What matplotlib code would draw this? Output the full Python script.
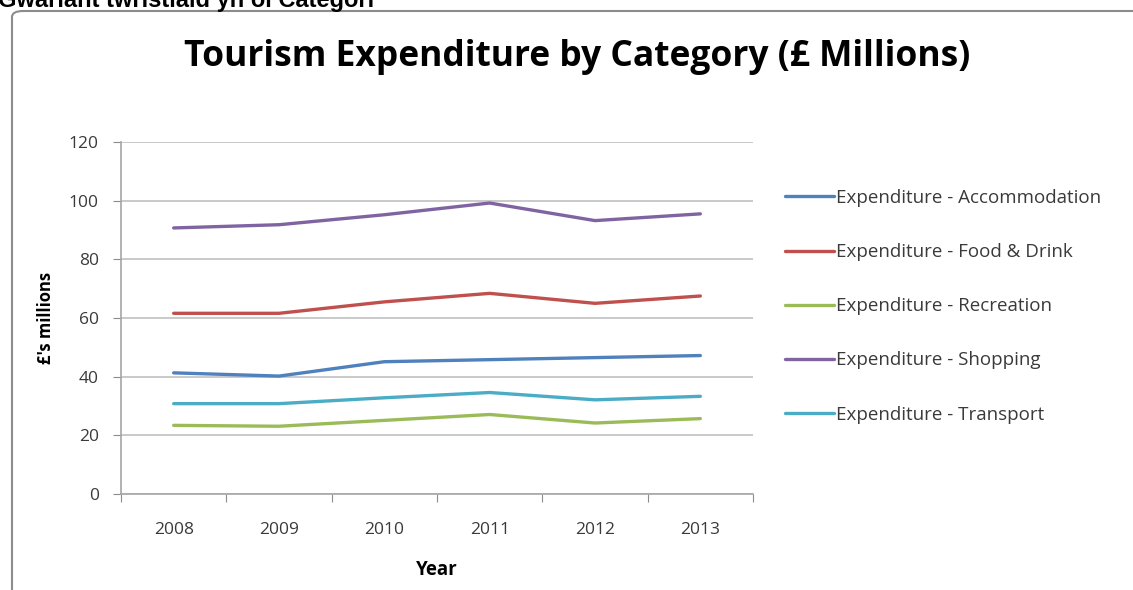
import matplotlib.pyplot as plt
from matplotlib.patches import FancyBboxPatch

years = ['2008', '2009', '2010', '2011', '2012', '2013']
accommodation = [41.3, 40.2, 45.1, 45.8, 46.5, 47.2]
food_drink = [61.6, 61.6, 65.5, 68.4, 65.0, 67.5]
recreation = [23.4, 23.1, 25.1, 27.1, 24.2, 25.7]
shopping = [90.7, 91.8, 95.2, 99.2, 93.2, 95.5]
transport = [30.8, 30.8, 32.8, 34.6, 32.1, 33.3]

series = [
    ('Expenditure - Accommodation', accommodation, '#4F81BD'),
    ('Expenditure - Food & Drink', food_drink, '#C0504D'),
    ('Expenditure - Recreation', recreation, '#9BBB59'),
    ('Expenditure - Shopping', shopping, '#8064A2'),
    ('Expenditure - Transport', transport, '#4BACC6'),
]

W, H = 1133, 590
fig = plt.figure(figsize=(W / 100, H / 100), dpi=100)
ax = fig.add_axes([121 / W, 1 - 494 / H, (753 - 121) / W, (494 - 142) / H])

# chart frame (gray border, cut at right and bottom)
frame = FancyBboxPatch((12 / W, -0.05), 1.2, 1 - 11 / H + 0.05,
                       boxstyle='round,pad=0,rounding_size=0.01',
                       transform=fig.transFigure, fill=False,
                       edgecolor='#8c8c8c', linewidth=1.5, zorder=0)
fig.patches.append(frame)

x = range(len(years))
handles = []
for name, vals, col in series:
    h, = ax.plot(x, vals, color=col, linewidth=2.4, label=name, solid_capstyle='round')
    handles.append(h)

ax.set_ylim(0, 120)
ax.set_yticks(range(0, 121, 20))
ax.set_xlim(-0.5, 5.5)
ax.set_xticks([i - 0.5 for i in range(7)])
ax.set_xticklabels([])
ax.set_xticks(list(x), minor=True)
ax.set_xticklabels(years, minor=True)
ax.tick_params(axis='x', which='minor', length=0, pad=20)
ax.tick_params(axis='x', which='major', length=6, color='#8c8c8c', direction='out')
ax.tick_params(axis='y', length=6, color='#8c8c8c', pad=10)
ax.tick_params(which='both', labelsize=12.5, labelcolor='#3a3a3a')
for lbl in ax.get_xticklabels(minor=True) + ax.get_yticklabels():
    lbl.set_family('Open Sans')

ax.grid(axis='y', color='#c0c0c0', linewidth=1.2)
ax.set_axisbelow(True)
for s in ['top', 'right']:
    ax.spines[s].set_visible(False)
for s in ['left', 'bottom']:
    ax.spines[s].set_color('#a6a6a6')
    ax.spines[s].set_linewidth(1.2)

ax.set_ylabel("£'s millions", fontsize=12, fontweight='bold', family='Open Sans', labelpad=10)
ax.set_xlabel('Year', fontsize=13.5, fontweight='bold', family='Open Sans', labelpad=16)

fig.text(577 / W, 1 - 57 / H, 'Tourism Expenditure by Category (£ Millions)',
         ha='center', va='center', fontsize=25.5, fontweight='bold', family='Open Sans')

# heading above the chart, cut by the top edge like in the source
fig.text(-2 / W, 1 - 7 / H, 'Gwariant twristiaid yn ôl Categori', ha='left', va='baseline',
         fontsize=17, fontweight='bold', family='Liberation Sans')

fig.legend(handles, [s[0] for s in series], loc='upper left',
           bbox_to_anchor=(768 / W, 1 - 172 / H), frameon=False,
           handlelength=2.6, handletextpad=0.15, labelspacing=1.93,
           prop={'family': 'Open Sans', 'size': 13.5}, labelcolor='#3a3a3a')

fig.savefig('out.png', dpi=100)
